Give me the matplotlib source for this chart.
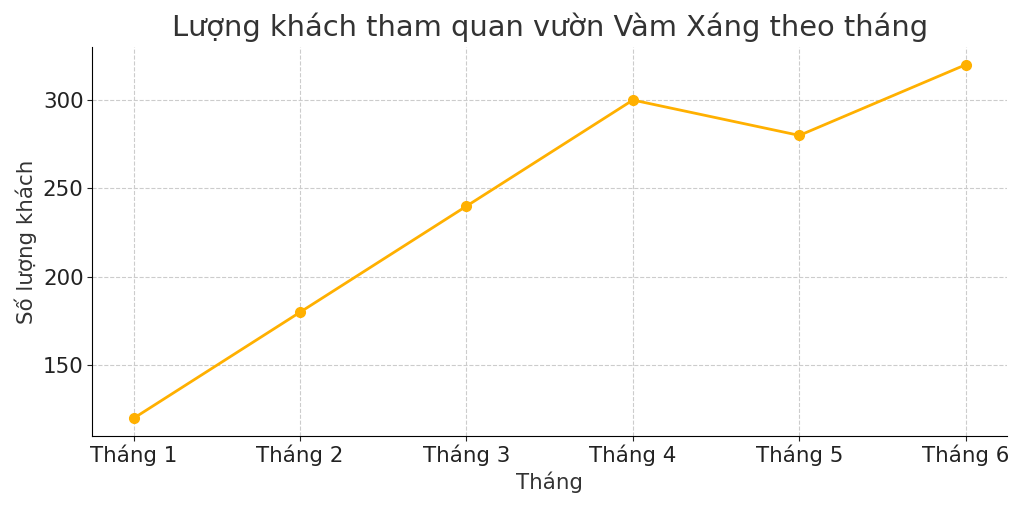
import matplotlib.pyplot as plt

plt.rcParams['font.family'] = ['DejaVu Sans']

months = ["Tháng 1", "Tháng 2", "Tháng 3", "Tháng 4", "Tháng 5", "Tháng 6"]
visitors = [120, 180, 240, 300, 280, 320]

fig = plt.figure(figsize=(10.24, 5.08), dpi=100)
ax = fig.add_axes([0.0898, 0.1417, 0.894, 0.7658])

ax.plot(months, visitors, marker='o', color='#FFB000', linewidth=2, markersize=7)

ax.set_title("Lượng khách tham quan vườn Vàm Xáng theo tháng", fontsize=20.8, color='#333333', pad=8)
ax.set_xlabel("Tháng", fontsize=15.4, color='#333333', labelpad=4)
ax.set_ylabel("Số lượng khách", fontsize=15.4, color='#333333')
ax.tick_params(labelsize=15.4, colors='#222222', pad=2.5)
ax.set_yticks([150, 200, 250, 300])

ax.grid(True, linestyle='--', color='#cccccc', linewidth=0.8)
ax.spines['top'].set_visible(False)
ax.spines['right'].set_visible(False)

fig.savefig("out.png", dpi=100)
